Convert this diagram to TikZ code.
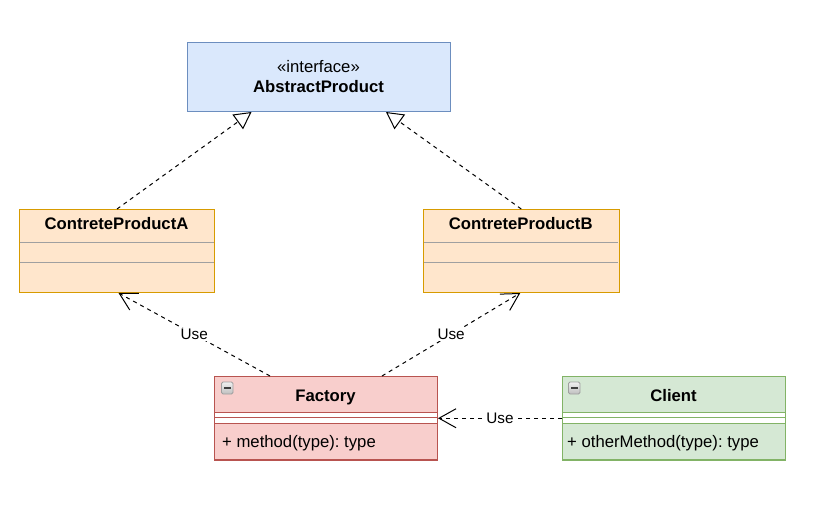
\documentclass[tikz,border=0pt]{standalone}
\usepackage{fontspec}
\setmainfont{Liberation Sans}
\usetikzlibrary{arrows.meta,calc}
\frenchspacing
\definecolor{blueF}{HTML}{DAE8FC}
\definecolor{blueS}{HTML}{6C8EBF}
\definecolor{orangeF}{HTML}{FFE6CC}
\definecolor{orangeS}{HTML}{D79B00}
\definecolor{redF}{HTML}{F8CECC}
\definecolor{redS}{HTML}{B85450}
\definecolor{greenF}{HTML}{D5E8D4}
\definecolor{greenS}{HTML}{82B366}
\definecolor{divgray}{HTML}{A0A0A0}
\tikzset{
  boxshape/.style={rectangle, anchor=north west, line width=1pt, inner sep=0pt},
  titletext/.style={anchor=base, inner sep=0pt, font=\fontsize{16.7}{20}\selectfont\bfseries},
  plaintext/.style={anchor=base, inner sep=0pt, font=\fontsize{16.7}{20}\selectfont},
  methodtext/.style={anchor=base west, inner sep=0pt, font=\fontsize{16.7}{20}\selectfont},
  uselabel/.style={fill=white, inner sep=1pt, font=\fontsize{15.3}{18}\selectfont},
  dashline/.style={line width=1pt, dash pattern=on 4pt off 4pt},
  realize/.style={dashline, -{Triangle[open, length=17pt, width=18pt, line width=1pt]}},
  usearrow/.style={dashline, -{Straight Barb[length=17pt, width=19pt, line width=1pt]}},
  minusicon/.style={draw=gray!75, rounded corners=1.5pt, top color=gray!12, bottom color=gray!50, line width=0.9pt},
  minusbar/.style={line width=1.8pt, gray!50!black},
}
\begin{document}
\begin{tikzpicture}[x=1pt,y=-1pt]
\useasboundingbox (0,0) rectangle (815,508);

% AbstractProduct
\node[boxshape, draw=blueS, fill=blueF, minimum width=263pt, minimum height=69pt] (ap) at (187,42) {};
\node[plaintext] (apst) at (318.5,72.3) {«interface»};
\node[titletext] (apt) at (318.5,93) {AbstractProduct};

% ContreteProductA
\node[boxshape, draw=orangeS, fill=orangeF, minimum width=195pt, minimum height=83pt] (ca) at (19,209) {};
\draw[divgray, line width=1pt] (19.5,242.3) -- (213.5,242.3);
\draw[divgray, line width=1pt] (19.5,262.7) -- (213.5,262.7);
\node[titletext] (cat) at (116.5,229.3) {ContreteProductA};

% ContreteProductB
\node[boxshape, draw=orangeS, fill=orangeF, minimum width=195.5pt, minimum height=83pt] (cb) at (423,209) {};
\draw[divgray, line width=1pt] (423.5,242.3) -- (618,242.3);
\draw[divgray, line width=1pt] (423.5,262.7) -- (618,262.7);
\node[titletext] (cbt) at (520.7,229.3) {ContreteProductB};

% Factory
\node[boxshape, draw=redS, fill=redF, minimum width=223pt, minimum height=83.5pt] (fac) at (214,376) {};
\fill[white] (214,412) rectangle (437,423);
\draw[redS, line width=1pt] (214,412) -- (437,412);
\draw[redS, line width=1pt] (214,417.5) -- (437,417.5);
\draw[redS, line width=1pt] (214,423) -- (437,423);
\draw[redS, line width=1pt] (214,376) rectangle (437,459.5);
\draw[minusicon] (221.5,382) rectangle (233,394);
\draw[minusbar] (224,388) -- (230.5,388);
\node[titletext] (fact) at (325.5,401) {Factory};
\node[methodtext] (facm) at (222,447.3) {+ method(type): type};

% Client
\node[boxshape, draw=greenS, fill=greenF, minimum width=223pt, minimum height=83.5pt] (cl) at (562,376) {};
\fill[white] (562,412) rectangle (785,423);
\draw[greenS, line width=1pt] (562,412) -- (785,412);
\draw[greenS, line width=1pt] (562,417.5) -- (785,417.5);
\draw[greenS, line width=1pt] (562,423) -- (785,423);
\draw[greenS, line width=1pt] (562,376) rectangle (785,459.5);
\draw[minusicon] (568.5,382) rectangle (580,394);
\draw[minusbar] (571,388) -- (577.5,388);
\node[titletext] (clt) at (673.5,401) {Client};
\node[methodtext] (clm) at (567,447.3) {+ otherMethod(type): type};

% realizations
\draw[realize] (ca.north) -- ($(ap.south west)+(64.5,0)$);
\draw[realize] (cb.north) -- ($(ap.south west)+(199,0)$);

% uses
\draw[usearrow] ($(fac.north west)+(56,0)$) -- node[uselabel] {Use} ($(ca.south)+(1.5,0)$);
\draw[usearrow] ($(fac.north west)+(168,0)$) -- node[uselabel] {Use} ($(cb.south)+(-1,0)$);
\draw[usearrow] (cl.west) -- node[uselabel] {Use} (fac.east);
\end{tikzpicture}
\end{document}
